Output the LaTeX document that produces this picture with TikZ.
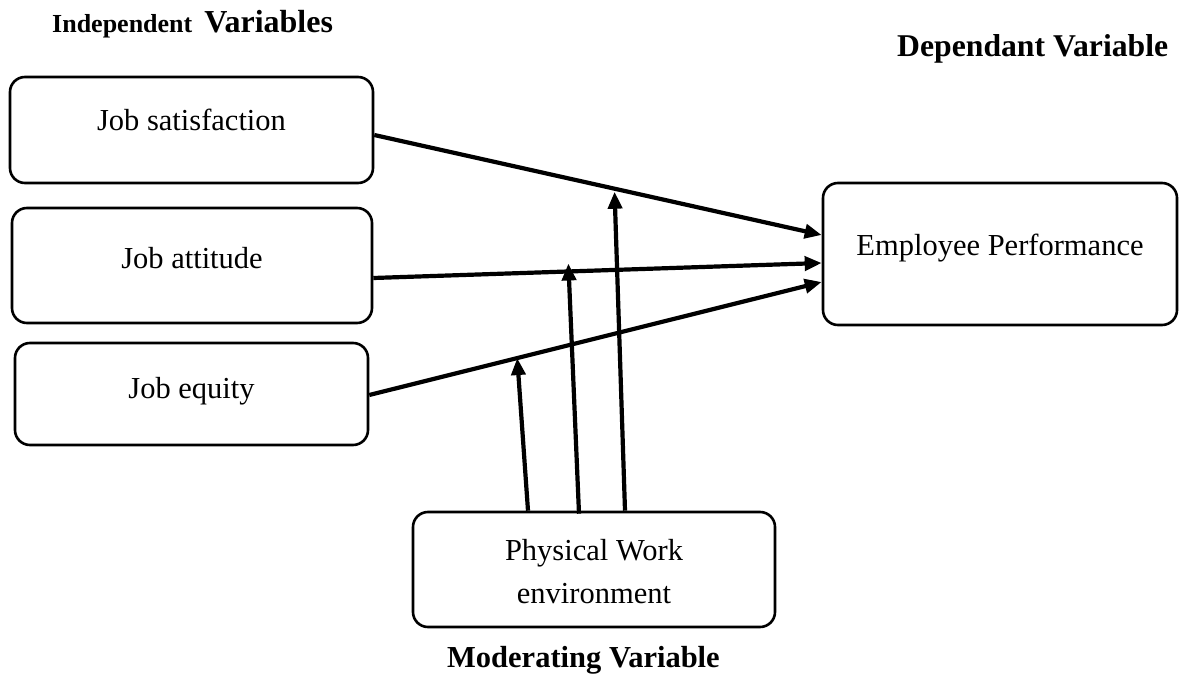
\documentclass[tikz,border=0pt]{standalone}
\usepackage{fontspec}
\setmainfont{Liberation Serif}
\usetikzlibrary{arrows.meta}

\tikzset{
  varbox/.style={draw, line width=2.6pt, rounded corners=15pt, inner sep=0pt,
    font=\fontsize{30.5}{43}\selectfont, align=center, text height=20pt},
  heading/.style={font=\fontsize{30.5}{36}\selectfont\bfseries, anchor=base west, inner sep=0pt},
  link/.style={line width=4.2pt, -{Triangle[length=17pt,width=14pt]}},
}

\begin{document}
\begin{tikzpicture}[x=1pt, y=-1pt]
  \useasboundingbox (0,0) rectangle (1182,679);

  % headings
  \node[heading] (indep) at (52,33) {\fontsize{26}{30}\selectfont Independent\hspace{12pt}\fontsize{32}{36}\selectfont Variables};
  \node[heading, font=\fontsize{31.7}{36}\selectfont\bfseries] (dep) at (897,57) {Dependant Variable};
  \node[heading] (mod) at (447,667) {Moderating Variable};

  % independent variables
  \node[varbox, minimum width=363pt, minimum height=106pt, text depth=18pt]
    (js) at (191.5,130) {Job satisfaction};
  \node[varbox, minimum width=360pt, minimum height=115pt, text depth=15pt]
    (ja) at (192,265.5) {Job attitude};
  \node[varbox, minimum width=353pt, minimum height=102pt, text depth=12pt]
    (je) at (191.5,394) {Job equity};

  % dependent variable
  \node[varbox, minimum width=354pt, minimum height=142pt, text depth=18pt]
    (ep) at (1000,254) {Employee Performance};

  % moderating variable
  \node[varbox, minimum width=362pt, minimum height=115pt, text height=70pt, text depth=2pt]
    (pw) at (594,569.5) {Physical Work\\environment};

  % direct effects
  \draw[link] ([yshift=-5pt]js.east) -- ([yshift=19pt]ep.west)
    coordinate[pos=0.537] (m1);
  \draw[link] ([yshift=-12.5pt]ja.east) -- ([yshift=-9pt]ep.west)
    coordinate[pos=0.435] (m2);
  \draw[link] ([yshift=-1pt]je.east) -- ([yshift=-28pt]ep.west)
    coordinate[pos=0.327] (m3);

  % moderating effects
  \draw[link] ([xshift=-66pt]pw.north) -- (m3);
  \draw[link] ([xshift=-15pt,yshift=-3pt]pw.north) -- ([yshift=8pt]m2);
  \draw[link] ([xshift=31pt]pw.north) -- ([yshift=-3pt]m1);
\end{tikzpicture}
\end{document}
